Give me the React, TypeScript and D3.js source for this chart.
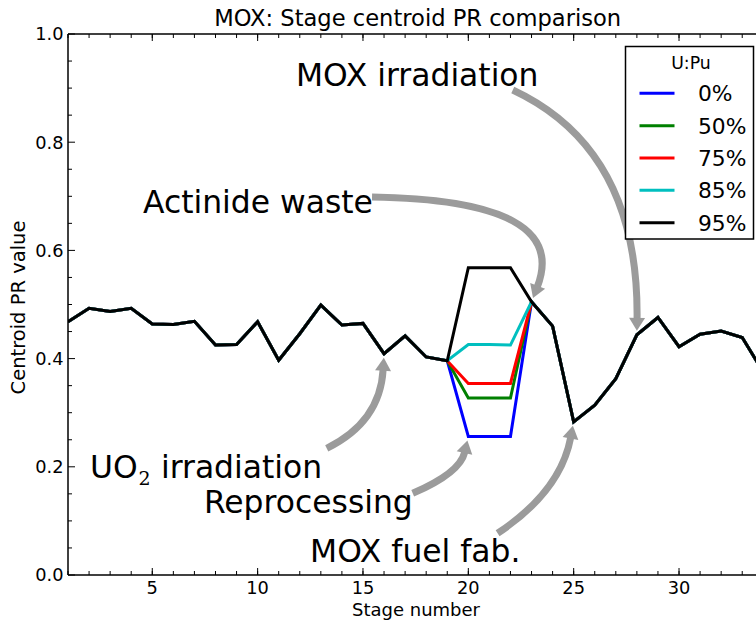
import React from 'react';
import * as d3 from 'd3';

// Stage numbers along the fuel cycle
const stages = [1, 2, 3, 4, 5, 6, 7, 8, 9, 10, 11, 12, 13, 14, 15, 16, 17, 18, 19, 20, 21, 22, 23, 24, 25, 26, 27, 28, 29, 30, 31, 32, 33, 34];

// Centroid PR value per stage, one array per U:Pu ratio
const pu0 = [0.468, 0.493, 0.487, 0.493, 0.464, 0.463, 0.469, 0.425, 0.426, 0.468, 0.397, 0.446, 0.499, 0.462, 0.465, 0.409, 0.442, 0.403, 0.396, 0.256, 0.256, 0.256, 0.505, 0.46, 0.283, 0.314, 0.363, 0.444, 0.476, 0.422, 0.445, 0.451, 0.439, 0.375];
const pu50 = [0.468, 0.493, 0.487, 0.493, 0.464, 0.463, 0.469, 0.425, 0.426, 0.468, 0.397, 0.446, 0.499, 0.462, 0.465, 0.409, 0.442, 0.403, 0.396, 0.327, 0.327, 0.327, 0.505, 0.46, 0.283, 0.314, 0.363, 0.444, 0.476, 0.422, 0.445, 0.451, 0.439, 0.375];
const pu75 = [0.468, 0.493, 0.487, 0.493, 0.464, 0.463, 0.469, 0.425, 0.426, 0.468, 0.397, 0.446, 0.499, 0.462, 0.465, 0.409, 0.442, 0.403, 0.396, 0.354, 0.354, 0.354, 0.505, 0.46, 0.283, 0.314, 0.363, 0.444, 0.476, 0.422, 0.445, 0.451, 0.439, 0.375];
const pu85 = [0.468, 0.493, 0.487, 0.493, 0.464, 0.463, 0.469, 0.425, 0.426, 0.468, 0.397, 0.446, 0.499, 0.462, 0.465, 0.409, 0.442, 0.403, 0.396, 0.426, 0.426, 0.425, 0.505, 0.46, 0.283, 0.314, 0.363, 0.444, 0.476, 0.422, 0.445, 0.451, 0.439, 0.375];
const pu95 = [0.468, 0.493, 0.487, 0.493, 0.464, 0.463, 0.469, 0.425, 0.426, 0.468, 0.397, 0.446, 0.499, 0.462, 0.465, 0.409, 0.442, 0.403, 0.396, 0.568, 0.568, 0.568, 0.505, 0.46, 0.283, 0.314, 0.363, 0.444, 0.476, 0.422, 0.445, 0.451, 0.439, 0.375];

const seriesLabels = ['0%', '50%', '75%', '85%', '95%'];
const seriesValues = [pu0, pu50, pu75, pu85, pu95];
const seriesColors = ['#0000ff', '#008000', '#ff0000', '#00bfbf', '#000000'];

const xTicks = [5, 10, 15, 20, 25, 30];
const xMinorTicks = stages;
const yTicks = [0, 0.2, 0.4, 0.6, 0.8, 1.0];
const yMinorTicks = [0.05, 0.1, 0.15, 0.25, 0.3, 0.35, 0.45, 0.5, 0.55, 0.65, 0.7, 0.75, 0.85, 0.9, 0.95];

// Callouts: text anchor, arrow start and bend, all in data coordinates;
// the arrow points at a stage of one of the series.
const callouts = [
  { text: 'MOX irradiation', at: [11.82, 0.904], from: [22.11, 0.8965], bend: [28.1, 0.7874], stage: 28, series: 4 },
  { text: 'Actinide waste', at: [4.56, 0.669], from: [15.43, 0.6987], bend: [24.87, 0.6932], stage: 23, series: 4 },
  { text: 'UO2', at: [2.04, 0.18], from: [13.28, 0.2342], bend: [15.81, 0.2828], stage: 16, series: 4 },
  { text: 'Reprocessing', at: [7.45, 0.114], from: [17.36, 0.151], bend: [19.6, 0.1885], stage: 20, series: 0 },
  { text: 'MOX fuel fab.', at: [12.49, 0.0246], from: [21.39, 0.0771], bend: [24.37, 0.1542], stage: 25, series: 4 },
];

const W = 756;
const H = 623;
const FONT = 'DejaVu Sans, sans-serif';
const left = 68;
const top = 34;
const right = 763.3;
const bottom = 575;

export default function App() {
  const x = d3.scaleLinear().domain([1, 34]).range([left, right]);
  const y = d3.scaleLinear().domain([0, 1]).range([bottom, top]);

  const line = d3
    .line<number>()
    .x((_, i) => x(stages[i]))
    .y((d) => y(d));

  const arrowColor = '#9b9b9b';
  const arrows = callouts.map((c, k) => {
    const p0 = [x(c.from[0]), y(c.from[1])];
    const cp = [x(c.bend[0]), y(c.bend[1])];
    const idx = stages.indexOf(c.stage);
    const target = [x(c.stage), y(seriesValues[c.series][idx])];
    let dx = target[0] - cp[0];
    let dy = target[1] - cp[1];
    const len = Math.hypot(dx, dy);
    dx /= len;
    dy /= len;
    const shrink = 4;
    const headLen = 13;
    const headW = 16;
    const tip = [target[0] - dx * shrink, target[1] - dy * shrink];
    const base = [tip[0] - dx * headLen, tip[1] - dy * headLen];
    const px = -dy;
    const py = dx;
    const shaft = d3.path();
    shaft.moveTo(p0[0], p0[1]);
    shaft.quadraticCurveTo(cp[0], cp[1], base[0] + dx * 1, base[1] + dy * 1);
    const head = `M${tip[0]},${tip[1]}L${base[0] + px * headW / 2},${base[1] + py * headW / 2}L${base[0] - px * headW / 2},${base[1] - py * headW / 2}Z`;
    return (
      <g key={k}>
        <path d={shaft.toString()} fill="none" stroke={arrowColor} strokeWidth={7} />
        <path d={head} fill={arrowColor} />
      </g>
    );
  });

  const legendX = 625.5;
  const legendY = 46.5;
  const legendRowGap = 32.35;

  return (
    <svg
      width={W}
      height={H}
      style={{ position: 'absolute', left: 0, top: 0, background: '#fff' }}
      fontFamily={FONT}
    >
      <rect x={0} y={0} width={W} height={H} fill="#fff" />
      <defs>
        <clipPath id="plotArea">
          <rect x={left} y={top} width={right - left} height={bottom - top} />
        </clipPath>
      </defs>

      {/* title */}
      <text x={(left + right) / 2 + 2} y={26} textAnchor="middle" fontSize={22.6}>
        MOX: Stage centroid PR comparison
      </text>

      {/* series */}
      <g clipPath="url(#plotArea)">
        {seriesValues.map((vals, i) => (
          <path
            key={seriesLabels[i]}
            d={line(vals) || ''}
            fill="none"
            stroke={seriesColors[i]}
            strokeWidth={3}
            strokeLinejoin="miter"
          />
        ))}
      </g>

      {/* spines */}
      <g stroke="#000" strokeWidth={1.5} fill="none">
        <line x1={left} y1={top} x2={right} y2={top} />
        <line x1={left} y1={bottom} x2={right} y2={bottom} />
        <line x1={left} y1={top} x2={left} y2={bottom} />
        <line x1={right} y1={top} x2={right} y2={bottom} />
      </g>

      {/* ticks, pointing inwards */}
      <g stroke="#000" strokeWidth={1}>
        {xMinorTicks.map((t) => (
          <g key={'xm' + t}>
            <line x1={x(t)} x2={x(t)} y1={bottom} y2={bottom - 4} />
            <line x1={x(t)} x2={x(t)} y1={top} y2={top + 4} />
          </g>
        ))}
        {xTicks.map((t) => (
          <g key={'xM' + t}>
            <line x1={x(t)} x2={x(t)} y1={bottom} y2={bottom - 7} />
            <line x1={x(t)} x2={x(t)} y1={top} y2={top + 7} />
          </g>
        ))}
        {yMinorTicks.map((t) => (
          <g key={'ym' + t}>
            <line x1={left} x2={left + 4} y1={y(t)} y2={y(t)} />
            <line x1={right} x2={right - 4} y1={y(t)} y2={y(t)} />
          </g>
        ))}
        {yTicks.map((t) => (
          <g key={'yM' + t}>
            <line x1={left} x2={left + 7} y1={y(t)} y2={y(t)} />
            <line x1={right} x2={right - 7} y1={y(t)} y2={y(t)} />
          </g>
        ))}
      </g>

      {/* tick labels */}
      <g fontSize={17.8}>
        {xTicks.map((t) => (
          <text key={'xl' + t} x={x(t)} y={594} textAnchor="middle">
            {t}
          </text>
        ))}
        {yTicks.map((t) => (
          <text key={'yl' + t} x={63.5} y={y(t) + 6.3} textAnchor="end">
            {d3.format('.1f')(t)}
          </text>
        ))}
      </g>

      {/* axis labels */}
      <text x={416} y={616} textAnchor="middle" fontSize={18}>
        Stage number
      </text>
      <text
        transform={`translate(25,${(top + bottom) / 2 + 3}) rotate(-90)`}
        textAnchor="middle"
        fontSize={19.5}
      >
        Centroid PR value
      </text>

      {/* callouts */}
      {arrows}
      <g fontSize={31.4}>
        {callouts.map((c, k) =>
          c.text === 'UO2' ? (
            <text key={k} x={x(c.at[0])} y={y(c.at[1])}>
              <tspan>UO</tspan>
              <tspan x={x(c.at[0]) + 48.5} dy={7} fontFamily="DejaVu Serif, serif" fontSize={19}>
                2
              </tspan>
              <tspan x={x(c.at[0]) + 71} dy={-7}>
                irradiation
              </tspan>
            </text>
          ) : (
            <text key={k} x={x(c.at[0])} y={y(c.at[1])}>
              {c.text}
            </text>
          )
        )}
      </g>

      {/* legend */}
      <g>
        <rect x={legendX} y={legendY} width={128} height={192.5} fill="#fff" stroke="#000" strokeWidth={1.5} />
        <text x={legendX + 65.5} y={69.3} textAnchor="middle" fontSize={17.3}>
          U:Pu
        </text>
        {seriesLabels.map((lab, i) => {
          const ly = 93.3 + i * legendRowGap;
          return (
            <g key={lab}>
              <line x1={639.5} x2={674.5} y1={ly} y2={ly} stroke={seriesColors[i]} strokeWidth={3} />
              <text x={698} y={ly + 8} fontSize={21.8}>
                {lab}
              </text>
            </g>
          );
        })}
      </g>
    </svg>
  );
}
